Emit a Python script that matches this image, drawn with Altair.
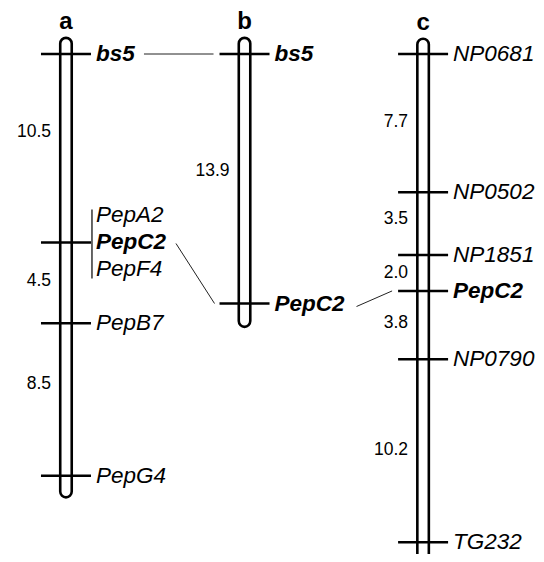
import altair as alt
import pandas as pd

# ---- data (genetic distances in cM) ----
chromosomes = ["a", "b", "c"]
chrom_index = [0, 1, 2]
chrom_top = [-0.9, -0.9, -0.85]      # cM, rounded end above first marker
chrom_bottom = [24.7, 15.2, 28.4]    # cM, rounded end below last marker

marker_chrom = ["a", "a", "a", "a", "b", "b", "c", "c", "c", "c", "c", "c"]
marker_name = ["bs5", "PepC2", "PepB7", "PepG4", "bs5", "PepC2",
               "NP0681", "NP0502", "NP1851", "PepC2", "NP0790", "TG232"]
marker_cm = [0.0, 10.5, 15.0, 23.5, 0.0, 13.9, 0.0, 7.7, 11.2, 13.2, 17.0, 27.2]
marker_bold = [True, True, False, False, True, True, False, False, False, True, False, False]

cluster_above = ["PepA2"]   # co-segregating with PepC2 on map a
cluster_below = ["PepF4"]

interval_chrom = ["a", "a", "a", "b", "c", "c", "c", "c", "c"]
interval_label = ["10.5", "4.5", "8.5", "13.9", "7.7", "3.5", "2.0", "3.8", "10.2"]
interval_label_cm = [4.32, 12.65, 18.38, 6.52, 3.79, 9.19, 12.2, 14.99, 22.06]

link_marker = ["bs5", "PepC2", "PepC2"]
link_from = ["a", "a", "b"]
link_to = ["b", "b", "c"]

# ---- tables ----
idx = dict(zip(chromosomes, chrom_index))
chrom_df = pd.DataFrame({"chrom": chromosomes, "idx": chrom_index,
                         "top": chrom_top, "bottom": chrom_bottom})
mk = pd.DataFrame({"chrom": marker_chrom, "name": marker_name,
                   "cm": marker_cm, "bold": marker_bold})
mk["idx"] = mk["chrom"].map(idx)
iv = pd.DataFrame({"chrom": interval_chrom, "label": interval_label, "cm": interval_label_cm})
iv["idx"] = iv["chrom"].map(idx)

def mpos(c, n):
    return float(mk[(mk.chrom == c) & (mk.name == n)].cm.iloc[0])

links = pd.DataFrame({
    "k": [0, 1, 2],
    "from_idx": [idx[c] for c in link_from],
    "to_idx": [idx[c] for c in link_to],
    "from_cm": [mpos(c, n) for c, n in zip(link_from, link_marker)],
    "to_cm": [mpos(c, n) for c, n in zip(link_to, link_marker)],
})
anchor = mk[(mk.chrom == "a") & (mk.name == "PepC2")]
above_df = anchor.assign(name=cluster_above[0])
below_df = anchor.assign(name=cluster_below[0])

# ---- scales ----
W, H = 528, 546
PX_X, X0 = 182.0, 54.0
PX_CM, Y0 = 17.95, 46.0
xscale = alt.Scale(domain=[-X0 / PX_X, (W - X0) / PX_X], nice=False, zero=False)
yscale = alt.Scale(domain=[-Y0 / PX_CM, (H - Y0) / PX_CM], nice=False, zero=False, reverse=True)

X = lambda f: alt.X(f, type="quantitative", scale=xscale, axis=None)
Y = lambda f: alt.Y(f, type="quantitative", scale=yscale, axis=None)

FONT = "Liberation Sans"
LFS = 22.5

bodies = alt.Chart(chrom_df).mark_bar(
    width=11.5, cornerRadius=5.75, fill="white", stroke="black", strokeWidth=2.6
).encode(x=X("idx"), y=Y("top"), y2=alt.Y2("bottom"))

ticks = alt.Chart(mk).mark_rule(
    color="black", strokeWidth=2.5, xOffset=-25, x2Offset=25
).encode(x=X("idx"), x2=alt.X2("idx"), y=Y("cm"))

lab_norm = alt.Chart(mk).transform_filter("!datum.bold").mark_text(
    align="left", baseline="middle", dx=30, font=FONT, fontSize=LFS,
    fontStyle="italic", color="black"
).encode(x=X("idx"), y=Y("cm"), text="name:N")

lab_bold = alt.Chart(mk).transform_filter("datum.bold").mark_text(
    align="left", baseline="middle", dx=30, font=FONT, fontSize=LFS,
    fontStyle="italic", fontWeight="bold", color="black"
).encode(x=X("idx"), y=Y("cm"), text="name:N")

lab_above = alt.Chart(above_df).mark_text(
    align="left", baseline="middle", dx=30, dy=-27, font=FONT, fontSize=LFS,
    fontStyle="italic", color="black"
).encode(x=X("idx"), y=Y("cm"), text="name:N")

lab_below = alt.Chart(below_df).mark_text(
    align="left", baseline="middle", dx=30, dy=27, font=FONT, fontSize=LFS,
    fontStyle="italic", color="black"
).encode(x=X("idx"), y=Y("cm"), text="name:N")

bracket = alt.Chart(anchor).mark_rule(
    color="black", strokeWidth=1.2, xOffset=26, x2Offset=26, yOffset=-33, y2Offset=36
).encode(x=X("idx"), x2=alt.X2("idx"), y=Y("cm"), y2=alt.Y2("cm"))

dist = alt.Chart(iv).mark_text(
    align="right", baseline="middle", dx=-15, font=FONT, fontSize=17.5, color="black"
).encode(x=X("idx"), y=Y("cm"), text="label:N")

letters = alt.Chart(chrom_df).mark_text(
    align="center", baseline="alphabetic", dy=-9, font=FONT, fontSize=24,
    fontWeight="bold", color="black"
).encode(x=X("idx"), y=Y("top"), text="chrom:N")

def link(k, xo, x2o, yo=0):
    return alt.Chart(links).transform_filter(f"datum.k == {k}").mark_rule(
        color="#222", strokeWidth=1, xOffset=xo, x2Offset=x2o, yOffset=yo
    ).encode(x=X("from_idx"), x2=alt.X2("to_idx"), y=Y("from_cm"), y2=alt.Y2("to_cm"))

chart = alt.layer(
    bodies, ticks, bracket, link(0, 78, -31), link(1, 110, -30, 1), link(2, 112, -31, 3),
    lab_norm, lab_bold, lab_above, lab_below, dist, letters
).properties(
    width=W, height=H, padding=0, autosize=alt.AutoSizeParams(type="none")
).configure_view(strokeWidth=0)

chart.save("out.html", embed_options={"renderer": "svg", "actions": False})
